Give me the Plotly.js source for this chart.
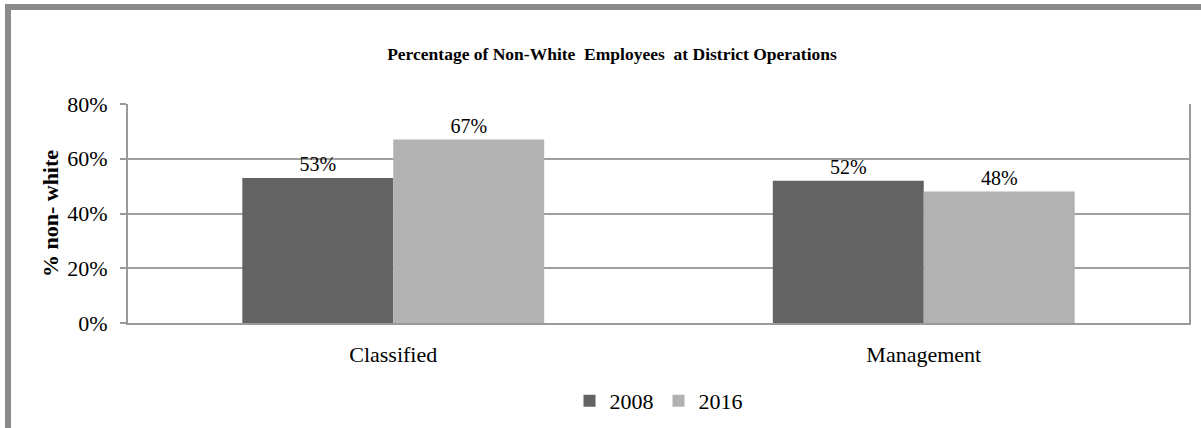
<!DOCTYPE html>
<html>
<head>
<meta charset="utf-8">
<script src="https://cdn.plot.ly/plotly-3.0.1.min.js"></script>
<style>
  html, body { margin: 0; padding: 0; background: #fff; }
  #wrap { position: relative; width: 1201px; height: 428px; overflow: hidden; }
  #chart { position: absolute; left: 0; top: 0; width: 1201px; height: 428px; }
  #frame { position: absolute; left: 5px; top: 4px; width: 1300px; height: 500px;
           border-left: 6px solid #8a8a8a; border-top: 6px solid #8a8a8a; pointer-events: none; }
</style>
</head>
<body>
<div id="wrap">
  <div id="chart"></div>
  <div id="frame"></div>
</div>
<script>
const categories = ["Classified", "Management"];
const series2008 = [0.53, 0.52];
const series2016 = [0.67, 0.48];
const seriesNames = ["2008", "2016"];
const yTickVals = [0, 0.2, 0.4, 0.6, 0.8];
const yTickText = ["0%", "20%", "40%", "60%", "80%"];

const font = "Liberation Serif";
function pct(v) { return Math.round(v * 100) + "%"; }

const traces = [
  { type: "bar", name: seriesNames[0], x: categories, y: series2008,
    marker: { color: "#636363" }, text: series2008.map(pct),
    textposition: "outside", cliponaxis: false,
    textfont: { family: font, size: 20, color: "#000" } },
  { type: "bar", name: seriesNames[1], x: categories, y: series2016,
    marker: { color: "#b2b2b2" }, text: series2016.map(pct),
    textposition: "outside", cliponaxis: false,
    textfont: { family: font, size: 20, color: "#000" } }
];

const layout = {
  width: 1201, height: 428,
  margin: { l: 128, r: 12, t: 104, b: 105, autoexpand: false },
  paper_bgcolor: "#fff", plot_bgcolor: "#fff",
  font: { family: font, color: "#000", size: 22 },
  title: { text: "<b>Percentage of Non-White  Employees  at District Operations</b>",
           font: { family: font, size: 17.5, color: "#000" },
           x: 612/1201, xanchor: "center", xref: "container", y: 1 - 54/428, yanchor: "middle" },
  barmode: "group", bargap: 0.431, bargroupgap: 0,
  showlegend: true,
  legend: { orientation: "h", x: 0.5, xanchor: "center", y: -0.356, yanchor: "middle",
            font: { family: font, size: 22 }, itemwidth: 30, traceorder: "normal" },
  xaxis: { type: "category", showline: true, linecolor: "#9a9a9a", linewidth: 2, mirror: false,
           ticks: "", ticklabelstandoff: 11, tickfont: { family: font, size: 22 }, fixedrange: true },
  yaxis: { range: [0, 0.8], tickvals: yTickVals, ticktext: yTickText,
           showgrid: true, gridcolor: "#a0a0a0", gridwidth: 2,
           showline: true, linecolor: "#9a9a9a", linewidth: 2, mirror: true,
           ticks: "outside", ticklen: 6, tickcolor: "#9a9a9a", tickwidth: 2,
           ticklabelstandoff: 8,
           tickfont: { family: font, size: 22 }, zeroline: false,
           title: { text: "<b>% non- white</b>", font: { family: font, size: 22 }, standoff: 3 } }
};

Plotly.newPlot("chart", traces, layout, { displayModeBar: false, staticPlot: true });
</script>
</body>
</html>
